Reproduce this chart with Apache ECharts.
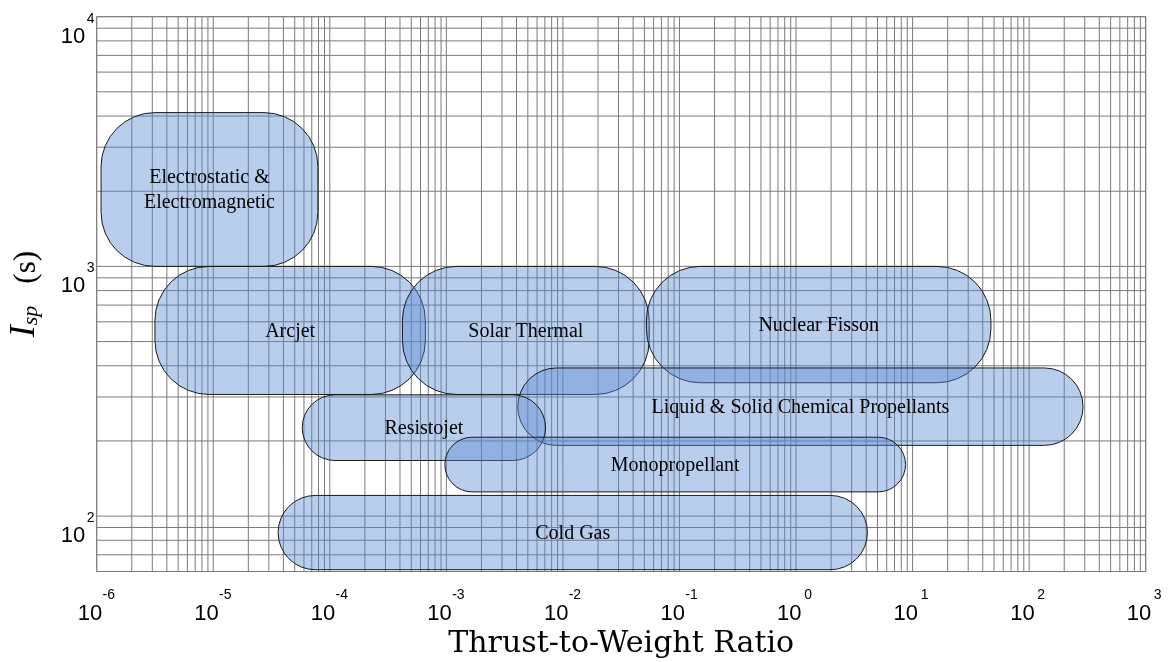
<!DOCTYPE html>
<html><head><meta charset="utf-8">
<script src="https://cdn.jsdelivr.net/npm/echarts@6/dist/echarts.min.js"></script>
<style>html,body{margin:0;padding:0;background:#fff}#c{width:1169px;height:662px}</style>
</head><body><div id="c"></div>
<script>
// Propulsion systems: thrust-to-weight range and specific impulse range (s)
const systems = ['Electrostatic &\nElectromagnetic', 'Arcjet', 'Solar Thermal', 'Nuclear Fisson',
  'Liquid & Solid Chemical Propellants', 'Resistojet', 'Monopropellant', 'Cold Gas'];
const twrMin = [1.09e-6, 3.16e-6, 4.2e-4, 5.2e-2, 4.1e-3, 5.8e-5, 9.7e-4, 3.6e-5];
const twrMax = [7.9e-5, 6.6e-4, 5.5e-2, 47, 290, 7.1e-3, 8.7, 4.1];
const ispMin = [1000, 307, 307, 342, 192, 167, 125, 61];
const ispMax = [4130, 1000, 1000, 1000, 392, 306, 207, 121];

// axis ranges and grid decades
const xRange = [1e-6, 1e3];
const yRange = [60, 1e4];
const xDecades = [-6, -5, -4, -3, -2, -1, 0, 1, 2, 3];
const yDecades = [1, 2, 3, 4];
const mantissas = [1, 2, 3, 4, 5, 6, 7, 8, 9];

function gridValues(decades, range) {
  const out = [];
  decades.forEach(e => mantissas.forEach(m => {
    const v = m * Math.pow(10, e);
    if (v >= range[0] * 0.999 && v <= range[1] * 1.001) out.push(v);
  }));
  return out;
}
const xGrid = gridValues(xDecades, xRange);
const yGrid = gridValues(yDecades, yRange);

function expLabel(v) {
  const l = Math.log10(v);
  const e = Math.round(l);
  if (Math.abs(l - e) > 1e-6) return '';
  return '{p| }{s|' + e + '}\n{b|10}{q| }';
}
const tickFont = 'Liberation Sans';
function richFor(supW) {
  return {
    p: { width: 24, lineHeight: 14, fontSize: 14 },
    s: { width: supW, lineHeight: 14, fontSize: 14, fontFamily: tickFont, color: '#000', align: 'left' },
    b: { width: 24, lineHeight: 22, fontSize: 22, fontFamily: tickFont, color: '#000', align: 'left' },
    q: { width: supW, lineHeight: 22, fontSize: 14 }
  };
}

const gridColor = '#7a7a7a';
const fillColor = 'rgba(87,139,210,0.42)';

const chart = echarts.init(document.getElementById('c'), null, { renderer: 'canvas' });
chart.setOption({
  animation: false,
  backgroundColor: '#fff',
  grid: { left: 96.7, right: 23.3, top: 16.7, bottom: 90.5, show: true, borderColor: '#8c8c8c', borderWidth: 1,
    containLabel: false, outerBoundsMode: 'none' },
  xAxis: {
    type: 'log', logBase: 10, min: xRange[0], max: xRange[1], splitNumber: 9,
    axisLine: { show: false }, axisTick: { show: false }, splitLine: { show: false },
    axisLabel: { margin: 17, formatter: expLabel, rich: richFor(14), showMinLabel: true, showMaxLabel: true },
    name: 'Thrust-to-Weight Ratio', nameLocation: 'middle', nameGap: 54,
    nameTextStyle: { fontFamily: 'DejaVu Serif', fontSize: 30, color: '#000' }
  },
  yAxis: {
    type: 'log', logBase: 10, min: yRange[0], max: yRange[1], splitNumber: 3,
    axisLine: { show: false }, axisTick: { show: false }, splitLine: { show: false },
    axisLabel: { margin: 0, padding: [26, 0, 0, 0], formatter: expLabel, rich: richFor(12), showMinLabel: true, showMaxLabel: true },
    name: '{i|I}{sub|sp}{n|(s)}', nameLocation: 'middle', nameGap: 54, nameRotate: 90,
    nameTextStyle: {
      color: '#000',
      rich: {
        i: { fontFamily: 'Liberation Serif', fontStyle: 'italic', fontSize: 36, lineHeight: 38, verticalAlign: 'bottom', color: '#000' },
        sub: { fontFamily: 'Liberation Serif', fontStyle: 'italic', fontSize: 22, lineHeight: 22, verticalAlign: 'bottom', color: '#000' },
        n: { fontFamily: 'Liberation Serif', fontSize: 31, lineHeight: 32, verticalAlign: 'bottom', color: '#000', padding: [0, 0, 0, 22] }
      }
    }
  },
  series: [
    {
      type: 'custom', silent: true, z: 1,
      data: xGrid.map(v => [v, yRange[0]]), encode: { x: 0, y: 1 },
      renderItem: (params, api) => {
        const cs = params.coordSys;
        const x = api.coord([api.value(0), api.value(1)])[0];
        return { type: 'line', shape: { x1: x, y1: cs.y, x2: x, y2: cs.y + cs.height }, style: { stroke: gridColor, lineWidth: 1 } };
      }
    },
    {
      type: 'custom', silent: true, z: 1,
      data: yGrid.map(v => [xRange[0], v]), encode: { x: 0, y: 1 },
      renderItem: (params, api) => {
        const cs = params.coordSys;
        const y = api.coord([api.value(0), api.value(1)])[1];
        return { type: 'line', shape: { x1: cs.x, y1: y, x2: cs.x + cs.width, y2: y }, style: { stroke: gridColor, lineWidth: 1 } };
      }
    },
    {
      type: 'custom', silent: true, z: 2,
      data: systems.map((s, i) => [twrMin[i], twrMax[i], ispMin[i], ispMax[i]]),
      encode: { x: [0, 1], y: [2, 3] },
      renderItem: (params, api) => {
        const a = api.coord([api.value(0), api.value(3)]);
        const b = api.coord([api.value(1), api.value(2)]);
        const x = Math.min(a[0], b[0]), y = Math.min(a[1], b[1]);
        const w = Math.abs(b[0] - a[0]), h = Math.abs(b[1] - a[1]);
        const r = Math.min(54, h / 2, w / 2);
        return { type: 'rect', shape: { x: x, y: y, width: w, height: h, r: r },
          style: { fill: fillColor, stroke: '#1a1a1a', lineWidth: 1 } };
      }
    },
    {
      type: 'custom', silent: true, z: 3,
      data: systems.map((s, i) => [twrMin[i], twrMax[i], ispMin[i], ispMax[i]]),
      encode: { x: [0, 1], y: [2, 3] },
      renderItem: (params, api) => {
        const a = api.coord([api.value(0), api.value(3)]);
        const b = api.coord([api.value(1), api.value(2)]);
        return { type: 'text', x: (a[0] + b[0]) / 2, y: (a[1] + b[1]) / 2 + 1,
          style: { text: systems[params.dataIndex], fill: '#000', fontFamily: 'Liberation Serif', fontSize: 20,
            lineHeight: 25, align: 'center', verticalAlign: 'middle' } };
      }
    }
  ]
});
</script></body></html>
